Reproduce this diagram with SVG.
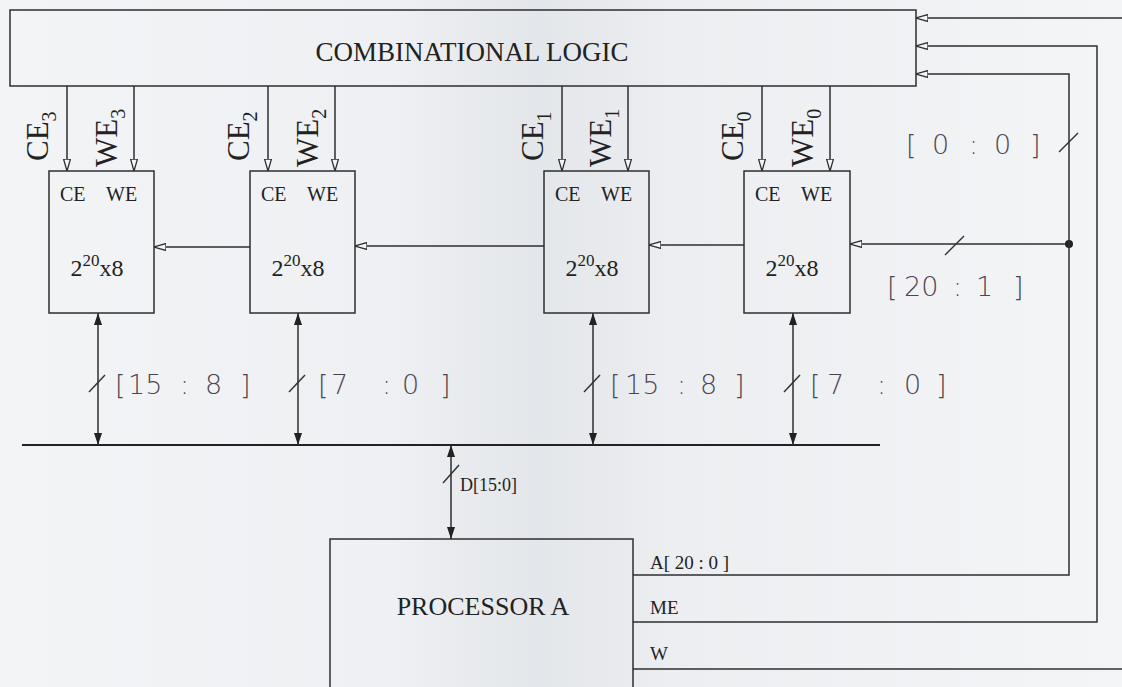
<svg xmlns="http://www.w3.org/2000/svg" width="1122" height="687" viewBox="0 0 1122 687">
  <style>
    .wire { stroke: #2e2e30; stroke-width: 1.5; fill: none; }
    .bus { stroke: #222; stroke-width: 2.2; fill: none; }
    .box { fill: none; stroke: #2e2e30; stroke-width: 1.5; }
    .serif { font-family: "Liberation Serif", "Times New Roman", serif; fill: #222; }
    .hand { font-family: "DejaVu Sans", "Liberation Sans", sans-serif; font-weight: 200; fill: #4e4450; }
    .slash { stroke: #333; stroke-width: 1.5; }
  </style>
  <defs>
    <marker id="open" viewBox="0 0 12 8" refX="12" refY="4" markerWidth="12" markerHeight="8" markerUnits="userSpaceOnUse" orient="auto">
      <path d="M0,0.5 L12,4 L0,7.5 Z" fill="#f4f5f7" stroke="#2e2e30" stroke-width="1.3"/>
    </marker>
    <marker id="solid" viewBox="0 0 12 8" refX="12" refY="4" markerWidth="12" markerHeight="8" markerUnits="userSpaceOnUse" orient="auto-start-reverse">
      <path d="M0,0 L12,4 L0,8 Z" fill="#222"/>
    </marker>
    <linearGradient id="paper" x1="0" y1="0" x2="1" y2="0">
      <stop offset="0" stop-color="#f3f4f6"/>
      <stop offset="0.35" stop-color="#eef0f3"/>
      <stop offset="0.48" stop-color="#e3e6ea"/>
      <stop offset="0.6" stop-color="#eceef1"/>
      <stop offset="1" stop-color="#f4f5f7"/>
    </linearGradient>
  </defs>

  <rect x="0" y="0" width="1122" height="687" fill="url(#paper)"/>

  <!-- combinational logic block -->
  <g id="comb-logic">
    <rect class="box" x="10" y="10" width="906" height="76"/>
    <text class="serif" x="472" y="61" font-size="27" text-anchor="middle">COMBINATIONAL LOGIC</text>
  </g>

  <!-- memory chips -->
  <g id="mem3">
    <rect class="box" x="49" y="171" width="105" height="142"/>
    <text class="serif" x="60" y="201" font-size="20">CE</text>
    <text class="serif" x="106" y="201" font-size="20">WE</text>
    <text class="serif" x="97" y="276" font-size="24" text-anchor="middle">2<tspan font-size="17" dy="-10">20</tspan><tspan dy="10">x8</tspan></text>
  </g>
  <g id="mem2">
    <rect class="box" x="250" y="171" width="105" height="142"/>
    <text class="serif" x="261" y="201" font-size="20">CE</text>
    <text class="serif" x="307" y="201" font-size="20">WE</text>
    <text class="serif" x="298" y="276" font-size="24" text-anchor="middle">2<tspan font-size="17" dy="-10">20</tspan><tspan dy="10">x8</tspan></text>
  </g>
  <g id="mem1">
    <rect class="box" x="544" y="171" width="105" height="142"/>
    <text class="serif" x="555" y="201" font-size="20">CE</text>
    <text class="serif" x="601" y="201" font-size="20">WE</text>
    <text class="serif" x="592" y="276" font-size="24" text-anchor="middle">2<tspan font-size="17" dy="-10">20</tspan><tspan dy="10">x8</tspan></text>
  </g>
  <g id="mem0">
    <rect class="box" x="744" y="171" width="106" height="142"/>
    <text class="serif" x="755" y="201" font-size="20">CE</text>
    <text class="serif" x="801" y="201" font-size="20">WE</text>
    <text class="serif" x="792" y="276" font-size="24" text-anchor="middle">2<tspan font-size="17" dy="-10">20</tspan><tspan dy="10">x8</tspan></text>
  </g>

  <!-- processor -->
  <g id="processor">
    <path class="box" d="M330,690 V539 H633 V690"/>
    <text class="serif" x="483" y="615" font-size="26" text-anchor="middle">PROCESSOR A</text>
    <text class="serif" x="650" y="569" font-size="19">A[ 20 : 0 ]</text>
    <text class="serif" x="650" y="614" font-size="19">ME</text>
    <text class="serif" x="650" y="660" font-size="19">W</text>
  </g>

  <g id="connectors">
    <!-- chip/write enables -->
    <line class="wire" x1="67" y1="86" x2="67" y2="171" marker-end="url(#open)"/>
    <line class="wire" x1="134" y1="86" x2="134" y2="171" marker-end="url(#open)"/>
    <line class="wire" x1="268" y1="86" x2="268" y2="171" marker-end="url(#open)"/>
    <line class="wire" x1="335" y1="86" x2="335" y2="171" marker-end="url(#open)"/>
    <line class="wire" x1="562" y1="86" x2="562" y2="171" marker-end="url(#open)"/>
    <line class="wire" x1="628" y1="86" x2="628" y2="171" marker-end="url(#open)"/>
    <line class="wire" x1="762" y1="86" x2="762" y2="171" marker-end="url(#open)"/>
    <line class="wire" x1="830" y1="86" x2="830" y2="171" marker-end="url(#open)"/>

    <!-- address chain -->
    <line class="wire" x1="1069" y1="244" x2="850" y2="244" marker-end="url(#open)"/>
    <line class="wire" x1="744" y1="245" x2="649" y2="245" marker-end="url(#open)"/>
    <line class="wire" x1="544" y1="246" x2="355" y2="246" marker-end="url(#open)"/>
    <line class="wire" x1="250" y1="247" x2="154" y2="247" marker-end="url(#open)"/>
    <circle cx="1069" cy="244" r="4" fill="#222"/>

    <!-- processor outputs to combinational logic -->
    <polyline class="wire" points="633,575 1069,575 1069,74 916,74" marker-end="url(#open)"/>
    <polyline class="wire" points="633,622 1097,622 1097,46 916,46" marker-end="url(#open)"/>
    <line class="wire" x1="1122" y1="18" x2="916" y2="18" marker-end="url(#open)"/>
    <line class="wire" x1="633" y1="669" x2="1122" y2="669"/>

    <!-- data bus -->
    <line class="bus" x1="22" y1="445" x2="880" y2="445"/>
    <line class="wire" x1="98" y1="313" x2="98" y2="445" marker-start="url(#solid)" marker-end="url(#solid)"/>
    <line class="wire" x1="298" y1="313" x2="298" y2="445" marker-start="url(#solid)" marker-end="url(#solid)"/>
    <line class="wire" x1="593" y1="313" x2="593" y2="445" marker-start="url(#solid)" marker-end="url(#solid)"/>
    <line class="wire" x1="793" y1="313" x2="793" y2="445" marker-start="url(#solid)" marker-end="url(#solid)"/>
    <line class="wire" x1="451" y1="445" x2="451" y2="539" marker-start="url(#solid)" marker-end="url(#solid)"/>

    <!-- width slashes -->
    <line class="slash" x1="89" y1="392" x2="105" y2="375"/>
    <line class="slash" x1="289" y1="392" x2="305" y2="375"/>
    <line class="slash" x1="584" y1="392" x2="600" y2="375"/>
    <line class="slash" x1="784" y1="392" x2="800" y2="375"/>
    <line class="slash" x1="443" y1="483" x2="459" y2="465"/>
    <line class="slash" x1="1059" y1="152" x2="1078" y2="133"/>
    <line class="slash" x1="945" y1="255" x2="964" y2="236"/>
  </g>

  <!-- rotated enable labels -->
  <g id="enable-labels" class="serif" font-size="31">
    <text transform="translate(48,161) rotate(-90)">CE<tspan font-size="20" dy="8">3</tspan></text>
    <text transform="translate(117,167) rotate(-90)">WE<tspan font-size="20" dy="8">3</tspan></text>
    <text transform="translate(249,161) rotate(-90)">CE<tspan font-size="20" dy="8">2</tspan></text>
    <text transform="translate(318,167) rotate(-90)">WE<tspan font-size="20" dy="8">2</tspan></text>
    <text transform="translate(543,161) rotate(-90)">CE<tspan font-size="20" dy="8">1</tspan></text>
    <text transform="translate(611,167) rotate(-90)">WE<tspan font-size="20" dy="8">1</tspan></text>
    <text transform="translate(743,161) rotate(-90)">CE<tspan font-size="20" dy="8">0</tspan></text>
    <text transform="translate(813,167) rotate(-90)">WE<tspan font-size="20" dy="8">0</tspan></text>
  </g>

  <!-- bus width labels, hand-lettered spacing -->
  <g id="width-labels" class="hand" font-size="27">
    <text y="394"><tspan x="115">[</tspan><tspan x="128">15</tspan><tspan x="180">:</tspan><tspan x="205">8</tspan><tspan x="240">]</tspan></text>
    <text y="394"><tspan x="318">[</tspan><tspan x="331">7</tspan><tspan x="382">:</tspan><tspan x="402">0</tspan><tspan x="440">]</tspan></text>
    <text y="394"><tspan x="610">[</tspan><tspan x="625">15</tspan><tspan x="677">:</tspan><tspan x="700">8</tspan><tspan x="734">]</tspan></text>
    <text y="394"><tspan x="810">[</tspan><tspan x="827">7</tspan><tspan x="877">:</tspan><tspan x="904">0</tspan><tspan x="936">]</tspan></text>
    <text y="154"><tspan x="906">[</tspan><tspan x="932">0</tspan><tspan x="969">:</tspan><tspan x="994">0</tspan><tspan x="1030">]</tspan></text>
    <text y="296"><tspan x="887">[</tspan><tspan x="904">20</tspan><tspan x="953">:</tspan><tspan x="976">1</tspan><tspan x="1013">]</tspan></text>
  </g>
  <text class="serif" x="460" y="491" font-size="18">D[15:0]</text>
</svg>
